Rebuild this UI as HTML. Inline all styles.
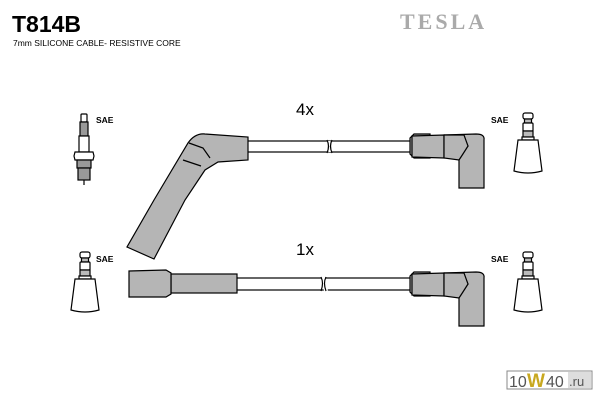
<!DOCTYPE html>
<html><head><meta charset="utf-8"><style>
html,body{margin:0;padding:0;background:#fff;}
svg{display:block;}
</style></head><body>
<svg width="600" height="400" viewBox="0 0 600 400" xmlns="http://www.w3.org/2000/svg" font-family="Liberation Sans, sans-serif">
<defs>
<g id="cap" stroke="#000" stroke-width="1.2" fill="#fff">
  <rect x="-5" y="0" width="10" height="6" rx="2"/>
  <rect x="-3.5" y="6" width="7" height="4" fill="#bbb"/>
  <rect x="-5" y="10" width="10" height="8" rx="1"/>
  <rect x="-5" y="18" width="10" height="6" fill="#bbb"/>
  <rect x="-6" y="24" width="12" height="3"/>
  <path d="M-10 27 L10 27 L14 58 Q0 62 -14 58 Z"/>
</g>
<g id="boot" stroke="#000" stroke-width="1.2" fill="#b5b5b5">
  <path d="M0 4 L4 0 L20 0 L20 24 L4 24 L0 20 Z"/>
  <path d="M2 2 L34 1 L34 24 L2 23 Z"/>
  <path d="M34 1 L66 0 Q75 0 74 6 L74 54 L49 54 L49 25 Q53 18 58 12 L54 3 Z"/>
  <path d="M34 1 L54 1 L58 12 Q53 20 49 26 L34 24 Z"/>
</g>
</defs>
<text x="12" y="32" font-size="23" font-weight="bold">T814B</text>
<text x="13" y="46" font-size="8.5">7mm SILICONE CABLE- RESISTIVE CORE</text>
<text x="400" y="29" font-size="22" font-weight="bold" fill="#aaa" font-family="Liberation Serif, serif" letter-spacing="3">TESLA</text>
<text x="296" y="115" font-size="17">4x</text>
<text x="296" y="255" font-size="17">1x</text>
<g font-size="8.5" font-weight="bold">
<text x="96" y="123">SAE</text><text x="491" y="123">SAE</text>
<text x="96" y="262">SAE</text><text x="491" y="262">SAE</text>
</g>
<g stroke="#000" stroke-width="1.2" fill="#fff">
  <rect x="81" y="114" width="6" height="8" rx="1"/>
  <rect x="80" y="122" width="8" height="14" fill="#999"/>
  <rect x="79" y="136" width="10" height="16"/>
  <path d="M75 152 L93 152 L94 156 L93 160 L75 160 L74 156 Z"/>
  <rect x="77" y="160" width="14" height="8" fill="#999"/>
  <rect x="78" y="168" width="12" height="12" fill="#999"/>
  <line x1="84" y1="180" x2="84" y2="185"/>
</g>
<use href="#cap" x="528" y="113"/>
<use href="#cap" x="85" y="252"/>
<use href="#cap" x="528" y="252"/>
<g stroke="#000" stroke-width="1.2" fill="#fff">
  <rect x="247" y="141" width="165" height="11"/>
  <line x1="329" y1="141" x2="330" y2="152" stroke="#fff" stroke-width="3"/>
  <path d="M327 140 q3 6 0 13 M332 140 q-3 6 0 13" fill="none"/>
</g>
<use href="#boot" x="410" y="134"/>
<g stroke="#000" stroke-width="1.2" fill="#b5b5b5">
  <path d="M154 200 L188 143 Q195 133 205 134 L248 137 L248 160 L218 162 L205 170 L185 200 L154 259 L127 247 Z"/>
  <path d="M189 143 L203 148 L210 158 M183 160 L201 166" fill="none"/>
</g>
<g stroke="#000" stroke-width="1.2" fill="#fff">
  <rect x="236" y="278" width="176" height="12"/>
  <line x1="323" y1="277" x2="326" y2="291" stroke="#fff" stroke-width="4"/>
  <path d="M321 277 q3 6 0 14 M326 277 q-3 6 0 14" fill="none"/>
</g>
<g stroke="#000" stroke-width="1.2" fill="#b5b5b5">
  <rect x="171" y="274" width="66" height="19"/>
  <path d="M129 271 L166 270 L171 273 L171 294 L166 297 L129 297 Z"/>
</g>
<use href="#boot" x="410" y="272"/>
<rect x="507" y="371" width="85" height="18" fill="#fff" stroke="#888"/>
<text x="509" y="387" font-size="16" fill="#555">10</text>
<text x="527" y="387" font-size="19" font-weight="bold" fill="#c8a820">W</text>
<text x="546" y="387" font-size="16" fill="#555">40</text>
<rect x="568" y="372" width="23" height="16" fill="#ddd"/>
<text x="569" y="386" font-size="13" fill="#555">.ru</text>
</svg>
</body></html>
